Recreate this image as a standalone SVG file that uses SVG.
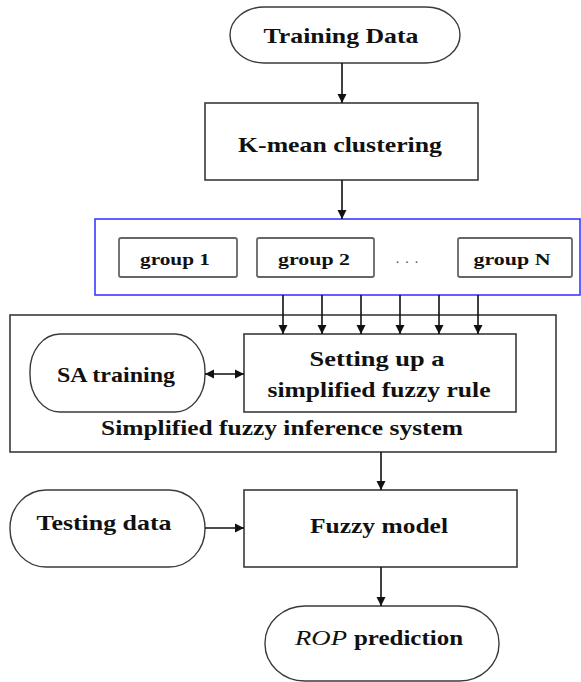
<svg xmlns="http://www.w3.org/2000/svg" width="581" height="682" viewBox="0 0 581 682">
<defs>
<marker id="ah" viewBox="0 0 10 10" refX="10" refY="5" markerWidth="9" markerHeight="10" markerUnits="userSpaceOnUse" orient="auto-start-reverse">
<path d="M0,0 L10,5 L0,10 z" fill="#111"/>
</marker>
<style>
.box{fill:#fff;stroke:#3a3a3a;stroke-width:1.6}
.cap{fill:#fff;stroke:#3a3a3a;stroke-width:1.4}
.grp{fill:#fff;stroke:#666;stroke-width:1.8}
.blue{fill:#fff;stroke:#3a3aff;stroke-width:1.6}
.t{font-family:"Liberation Serif","Times New Roman",serif;font-weight:bold;fill:#111;text-anchor:middle}
.t20{font-size:22px}
.t16{font-size:17px}
.ln{stroke:#111;stroke-width:1.6;fill:none;marker-end:url(#ah)}
</style>
</defs>
<rect width="581" height="682" fill="#fff"/>

<g id="training-data">
<rect class="cap" x="230" y="7" width="230" height="56" rx="34" ry="28"/>
<text class="t t20" x="341" y="43" textLength="155" lengthAdjust="spacingAndGlyphs">Training Data</text>
</g>

<g id="kmean">
<rect class="box" x="205" y="103" width="273" height="77"/>
<text class="t t20" x="340" y="152" textLength="204" lengthAdjust="spacingAndGlyphs">K-mean clustering</text>
</g>

<g id="groups">
<rect class="blue" x="95" y="219" width="485" height="76"/>
<g id="group1">
<rect class="grp" x="119" y="238" width="118" height="39" rx="2"/>
<text class="t t16" x="175" y="265" textLength="70" lengthAdjust="spacingAndGlyphs">group 1</text>
</g>
<g id="group2">
<rect class="grp" x="257" y="238" width="117" height="39" rx="2"/>
<text class="t t16" x="314" y="265" textLength="72" lengthAdjust="spacingAndGlyphs">group 2</text>
</g>
<text x="410" y="263" font-family="Liberation Serif, serif" font-size="14" fill="#555" text-anchor="middle" letter-spacing="6">...</text>
<g id="groupN">
<rect class="grp" x="458" y="238" width="114" height="39" rx="2"/>
<text class="t t16" x="512" y="265" textLength="77" lengthAdjust="spacingAndGlyphs">group N</text>
</g>
</g>

<g id="sfis">
<rect class="box" x="10" y="315" width="546" height="137"/>
<text class="t t20" x="282" y="435" textLength="362" lengthAdjust="spacingAndGlyphs">Simplified fuzzy inference system</text>
</g>

<g id="sa-training">
<rect class="cap" x="30" y="334" width="175" height="78" rx="30" ry="37"/>
<text class="t t20" x="116" y="382" textLength="118" lengthAdjust="spacingAndGlyphs">SA training</text>
</g>

<g id="setting-rule">
<rect class="box" x="244" y="334" width="272" height="78"/>
<text class="t t20" x="377" y="366" textLength="135" lengthAdjust="spacingAndGlyphs">Setting up a</text>
<text class="t t20" x="379" y="397" textLength="223" lengthAdjust="spacingAndGlyphs">simplified fuzzy rule</text>
</g>

<g id="testing-data">
<rect class="cap" x="10" y="490" width="195" height="77" rx="36" ry="38"/>
<text class="t t20" x="104" y="530" textLength="135" lengthAdjust="spacingAndGlyphs">Testing data</text>
</g>

<g id="fuzzy-model">
<rect class="box" x="244" y="490" width="273" height="77"/>
<text class="t t20" x="379" y="533" textLength="138" lengthAdjust="spacingAndGlyphs">Fuzzy model</text>
</g>

<g id="rop">
<rect class="cap" x="265" y="606" width="234" height="75" rx="40" ry="37"/>
<text font-family="Liberation Serif, Times New Roman, serif" font-size="22" fill="#111" x="295" y="645"><tspan font-style="italic" textLength="52" lengthAdjust="spacingAndGlyphs">ROP</tspan><tspan font-weight="bold" x="354" textLength="109" lengthAdjust="spacingAndGlyphs">prediction</tspan></text>
</g>

<g id="connectors">
<line class="ln" x1="342" y1="63" x2="342" y2="103"/>
<line class="ln" x1="342" y1="180" x2="342" y2="219"/>
<line class="ln" x1="283" y1="295" x2="283" y2="334"/>
<line class="ln" x1="322" y1="295" x2="322" y2="334"/>
<line class="ln" x1="361" y1="295" x2="361" y2="334"/>
<line class="ln" x1="400" y1="295" x2="400" y2="334"/>
<line class="ln" x1="439" y1="295" x2="439" y2="334"/>
<line class="ln" x1="478" y1="295" x2="478" y2="334"/>
<line class="ln" x1="205" y1="374" x2="244" y2="374" marker-start="url(#ah)"/>
<line class="ln" x1="381" y1="452" x2="381" y2="490"/>
<line class="ln" x1="205" y1="528" x2="244" y2="528"/>
<line class="ln" x1="381" y1="567" x2="381" y2="606"/>
</g>
</svg>
